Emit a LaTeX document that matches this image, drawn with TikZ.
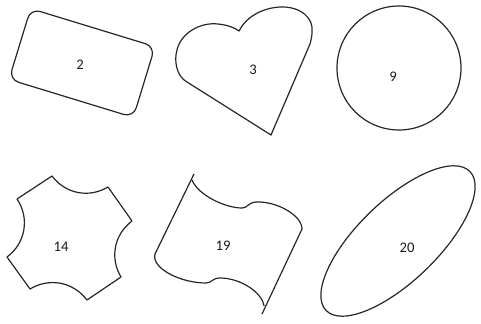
\documentclass[tikz,border=0pt]{standalone}
\usepackage{fontspec}
\setmainfont{Carlito}
\begin{document}
\begin{tikzpicture}[
        x=0.75pt, y=-0.75pt,
        outline/.style={draw=black!85, line width=0.9pt, line join=round},
        lbl/.style={font=\fontsize{11}{13}\selectfont, text=black!90}
    ]
        \useasboundingbox (0,0) rectangle (481,324);

        \draw[outline, rounded corners=7.5pt, rotate around={-17:(82,63)}] (17,26) rectangle (147,100);
        \draw[outline] (271,135) -- (187,82) .. controls (176,76) and (174,60) .. (177,50)
            .. controls (181,33) and (200,22) .. (218,24) .. controls (228,25) and (235,28) .. (239,31)
            .. controls (246,17) and (262,8) .. (280,7) .. controls (300,6) and (314,18) .. (312,32)
            .. controls (312,37) and (311,40) .. (310,44) -- cycle;
        \draw[outline] (399,68) circle [radius=46.5pt];

        \draw[outline] (52,176) to[bend right=42] (108,187) -- (132,221)
            to[bend right=42] (121,277) -- (87,300)
            to[bend right=42] (30,289) -- (7,257)
            to[bend right=44] (17,199) -- cycle;
        \draw[outline] (194,174) -- (155,254);
        \draw[outline] (155,254) .. controls (151,268) and (180,283) .. (206,283)
            .. controls (212,283) and (212,278) .. (220,278)
            .. controls (240,278) and (262,292) .. (264,306);
        \draw[outline] (302,229) -- (262,314);
        \draw[outline] (192,180) .. controls (198,195) and (225,208) .. (242,208)
            .. controls (248,208) and (247,203) .. (256,202)
            .. controls (276,201) and (302,215) .. (302,229);
        \draw[outline, rotate around={44:(398,241)}] (398,241) ellipse [x radius=75pt, y radius=30pt];

        \node[lbl] (n2) at (80,65) {2};
        \node[lbl] (n3) at (253,70) {3};
        \node[lbl] (n9) at (393,77) {9};
        \node[lbl] (n14) at (61,247) {14};
        \node[lbl] (n19) at (223,246) {19};
        \node[lbl] (n20) at (407,248) {20};
\end{tikzpicture}
\end{document}
